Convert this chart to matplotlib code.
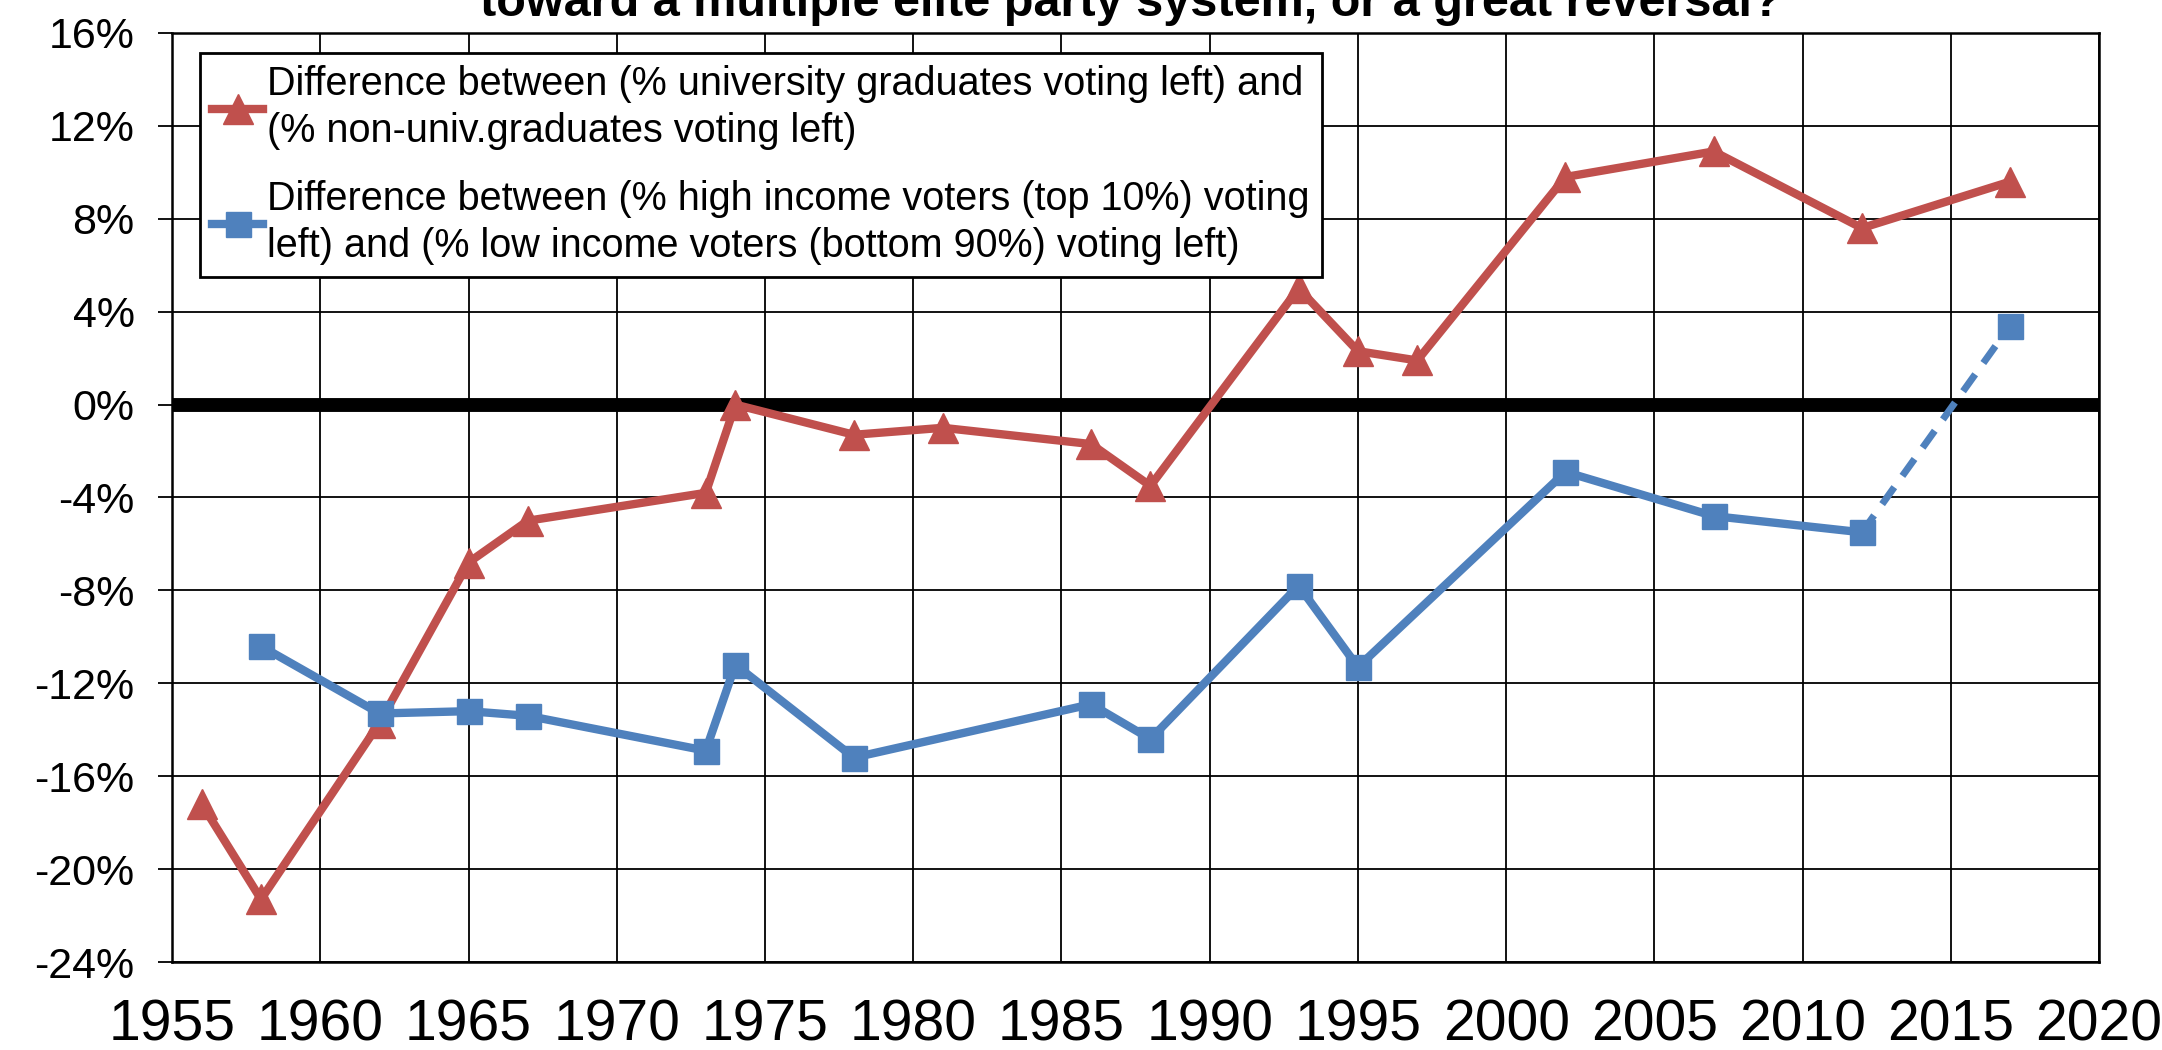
"""Education vs income cleavages: difference in left vote, 1956-2017."""
import matplotlib
matplotlib.use("Agg")
import matplotlib.pyplot as plt
from matplotlib import font_manager
from matplotlib.ticker import FuncFormatter

ROJO = "#C0504D"
AZUL = "#4F81BD"

# educación: (% universitarios votando izquierda) - (% no universitarios)
anios_edu = [1956, 1958, 1962, 1965, 1967, 1973, 1974, 1978, 1981, 1986,
             1988, 1993, 1995, 1997, 2002, 2007, 2012, 2017]
dif_edu = [-17.2, -21.3, -13.7, -6.8, -5.0, -3.8, 0.0, -1.3, -1.0, -1.7,
           -3.5, 5.0, 2.3, 1.9, 9.8, 10.9, 7.6, 9.6]

# ingreso: (% top 10% votando izquierda) - (% bottom 90%)
anios_ing = [1958, 1962, 1965, 1967, 1973, 1974, 1978, 1986, 1988, 1993,
             1995, 2002, 2007, 2012, 2017]
dif_ing = [-10.4, -13.3, -13.2, -13.4, -14.9, -11.2, -15.2, -12.9, -14.4,
           -7.8, -11.3, -2.9, -4.8, -5.5, 3.4]

lbl_edu = ("Difference between (% university graduates voting left) and\n"
           "(% non-univ.graduates voting left)")
lbl_ing = ("Difference between (% high income voters (top 10%) voting\n"
           "left) and (% low income voters (bottom 90%) voting left)")
titulo = "toward a multiple elite party system, or a great reversal?"

nombres = {f.name for f in font_manager.fontManager.ttflist}
NARROW = "Liberation Sans Narrow" if "Liberation Sans Narrow" in nombres else "Liberation Sans"
plt.rcParams["font.family"] = ["Liberation Sans", "DejaVu Sans"]

fig = plt.figure(figsize=(21.62, 10.5), dpi=100)
ax = fig.add_axes([0.0796, 0.0838, 0.9709 - 0.0796, 0.9686 - 0.0838])

ax.plot(anios_edu, dif_edu, color=ROJO, lw=6, marker="^", ms=21,
        label=lbl_edu, zorder=4)
ax.plot(anios_ing[:-1], dif_ing[:-1], color=AZUL, lw=6, marker="s", ms=18,
        label=lbl_ing, zorder=4)
ax.plot(anios_ing[-2:], dif_ing[-2:], color=AZUL, lw=5, ls=(0, (3, 2)),
        zorder=4)
ax.plot(anios_ing[-1:], dif_ing[-1:], color=AZUL, marker="s", ms=18,
        ls="none", zorder=5)

ax.axhline(0, color="black", lw=10, zorder=3)

ax.set_xlim(1955, 2020)
ax.set_ylim(-24, 16)
ax.set_xticks(range(1955, 2021, 5))
ax.set_yticks(range(-24, 17, 4))
ax.yaxis.set_major_formatter(FuncFormatter(lambda v, p: f"{v:.0f}%"))
ax.grid(True, color="black", lw=1.3, zorder=1)
ax.tick_params(axis="x", length=0, pad=26)
ax.tick_params(axis="y", length=10, width=1.3, pad=17)
for t in ax.get_xticklabels():
    t.set_fontfamily(NARROW)
    t.set_fontsize(41)
for t in ax.get_yticklabels():
    t.set_fontfamily(NARROW)
    t.set_fontsize(31)
for s in ax.spines.values():
    s.set_linewidth(1.8)

leg = ax.legend(loc="upper left", bbox_to_anchor=(0.0145, 0.978),
                fontsize=28.5, frameon=True, fancybox=False, handlelength=1.3,
                handletextpad=0.1, borderpad=0.3, labelspacing=0.75,
                borderaxespad=0)
leg.get_frame().set_edgecolor("black")
leg.get_frame().set_linewidth(2)
leg.get_frame().set_alpha(1)
for t in leg.get_texts():
    t.set_linespacing(1.3)

fig.text(0.523, 1 - 16 / 1050, titulo, ha="center", va="baseline",
         fontsize=35, fontweight="bold", family=NARROW)

fig.savefig("out.png", dpi=100)
